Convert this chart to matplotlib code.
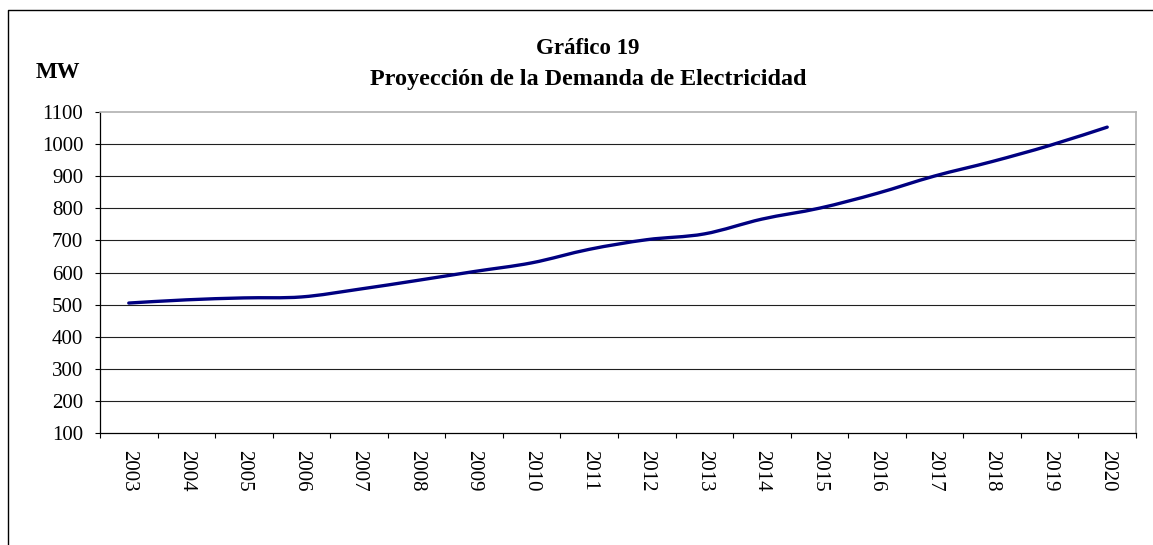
import matplotlib
matplotlib.use("Agg")
import matplotlib.pyplot as plt
import numpy as np
from matplotlib.path import Path
from matplotlib.patches import PathPatch
from matplotlib.lines import Line2D
from matplotlib.ticker import FixedLocator, NullFormatter

years = ["2003", "2004", "2005", "2006", "2007", "2008", "2009", "2010", "2011",
         "2012", "2013", "2014", "2015", "2016", "2017", "2018", "2019", "2020"]
demand_mw = [505, 515, 521, 524, 548, 575, 603, 630, 672,
             702, 720, 766, 800, 846, 900, 945, 995, 1052]
y_ticks = [100, 200, 300, 400, 500, 600, 700, 800, 900, 1000, 1100]
title_line1 = "Gráfico 19"
title_line2 = "Proyección de la Demanda de Electricidad"
unit_label = "MW"

W, H = 1153, 545
fig = plt.figure(figsize=(W / 100, H / 100), dpi=100)
plt.rcParams['font.family'] = ['Liberation Serif', 'DejaVu Serif']

ax = fig.add_axes([100 / W, 1 - 433.3 / H, (1136 - 100) / W, (433.3 - 111.7) / H])

# smoothed line (Excel-like bezier smoothing)
x = np.arange(len(years), dtype=float)
y = np.array(demand_mw, dtype=float)
P = np.column_stack([x, y])
n = len(P)
verts = [tuple(P[0])]
codes = [Path.MOVETO]
for i in range(n - 1):
    p0 = P[i - 1] if i > 0 else P[i]
    p1 = P[i]
    p2 = P[i + 1]
    p3 = P[i + 2] if i + 2 < n else P[i + 1]
    c1 = p1 + (p2 - p0) / 6.0
    c2 = p2 - (p3 - p1) / 6.0
    verts += [tuple(c1), tuple(c2), tuple(p2)]
    codes += [Path.CURVE4] * 3
patch = PathPatch(Path(verts, codes), fill=False, edgecolor='#000080',
                  lw=2.4, capstyle='round', joinstyle='round', zorder=3)
ax.add_patch(patch)

ax.set_xlim(-0.5, len(years) - 0.5)
ax.set_ylim(100, 1100)

# gridlines
for v in y_ticks[1:-1]:
    ax.axhline(v, color='#202020', lw=0.8, zorder=1)

# y axis
ax.set_yticks(y_ticks)
ax.set_yticklabels([str(v) for v in y_ticks])
ax.tick_params(axis='y', direction='out', length=3.6, width=0.8, pad=8.5,
               labelsize=15, colors='black')

# x axis: ticks at boundaries, labels at centers
ax.xaxis.set_major_locator(FixedLocator(np.arange(len(years) + 1) - 0.5))
ax.xaxis.set_major_formatter(NullFormatter())
ax.xaxis.set_minor_locator(FixedLocator(x))
ax.set_xticklabels(years, minor=True, rotation=270, fontsize=15)
ax.tick_params(axis='x', which='major', direction='out', length=3.6, width=0.8)
ax.tick_params(axis='x', which='minor', length=0, pad=12)

for s in ['left', 'bottom']:
    ax.spines[s].set_color('black')
    ax.spines[s].set_linewidth(0.9)
for s in ['top', 'right']:
    ax.spines[s].set_color('#b0b0b0')
    ax.spines[s].set_linewidth(1.2)

# titles
fig.text(588 / W, 1 - 48 / H, title_line1, ha='center', va='center',
         fontsize=16.5, fontweight='bold')
fig.text(588 / W, 1 - 80 / H, title_line2, ha='center', va='center',
         fontsize=17.4, fontweight='bold')
fig.text(58 / W, 1 - 72 / H, unit_label, ha='center', va='center',
         fontsize=16.5, fontweight='bold')

# outer chart border (partially visible)
bx = 8 / W
by = 1 - 10 / H
fig.add_artist(Line2D([bx, bx, 1.0], [0.0, by, by], transform=fig.transFigure,
                      color='black', lw=1.0))

fig.savefig("out.png", dpi=100, facecolor='white')
